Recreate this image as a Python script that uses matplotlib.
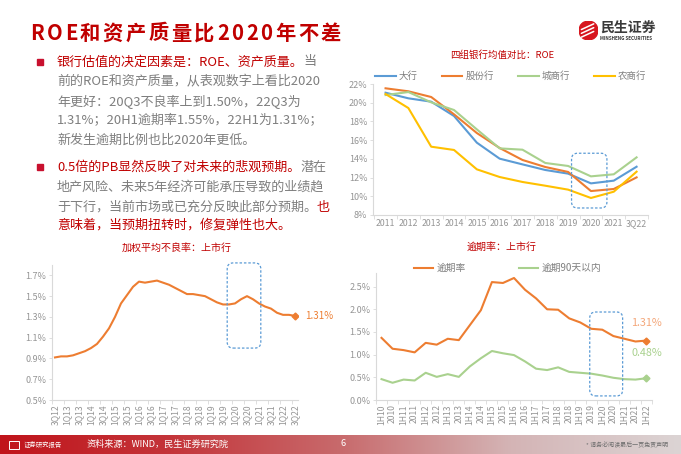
import matplotlib
matplotlib.use('Agg')
import matplotlib.pyplot as plt
import numpy as np
from matplotlib.patches import FancyBboxPatch, Rectangle, Circle
from matplotlib.colors import LinearSegmentedColormap

plt.rcParams['font.family'] = ['Noto Sans CJK SC', 'DejaVu Sans']

#Data - ROE by bank group
roe_years = ['2011', '2012', '2013', '2014', '2015', '2016', '2017', '2018', '2019', '2020', '2021', '3Q22']
roe_big = [21.07, 20.47, 20.11, 18.58, 15.73, 14.02, 13.41, 12.81, 12.42, 11.38, 11.67, 13.16]
roe_joint = [21.54, 21.22, 20.61, 18.76, 16.76, 15.16, 13.88, 13.13, 12.60, 10.56, 10.78, 12.02]
roe_city = [20.82, 21.14, 20.04, 19.22, 17.15, 15.12, 14.98, 13.56, 13.24, 12.13, 12.35, 14.16]
roe_rural = [20.93, 19.43, 15.30, 14.95, 12.88, 12.06, 11.53, 11.13, 10.71, 9.82, 10.49, 12.63]

#Data - weighted NPL ratio, listed banks
npl_quarters = ['3Q12', '4Q12', '1Q13', '2Q13', '3Q13', '4Q13', '1Q14', '2Q14', '3Q14', '4Q14',
                '1Q15', '2Q15', '3Q15', '4Q15', '1Q16', '2Q16', '3Q16', '4Q16', '1Q17', '2Q17',
                '3Q17', '4Q17', '1Q18', '2Q18', '3Q18', '4Q18', '1Q19', '2Q19', '3Q19', '4Q19',
                '1Q20', '2Q20', '3Q20', '4Q20', '1Q21', '2Q21', '3Q21', '4Q21', '1Q22', '2Q22', '3Q22']
npl_rate = [0.91, 0.92, 0.92, 0.93, 0.95, 0.97, 1.00, 1.04, 1.11, 1.19,
            1.30, 1.43, 1.51, 1.59, 1.64, 1.63, 1.64, 1.65, 1.63, 1.61,
            1.58, 1.55, 1.52, 1.52, 1.51, 1.50, 1.47, 1.44, 1.42, 1.42,
            1.43, 1.47, 1.50, 1.47, 1.43, 1.40, 1.38, 1.34, 1.32, 1.32, 1.31]

#Data - overdue ratio, listed banks
od_periods = ['1H10', '2010', '1H11', '2011', '1H12', '2012', '1H13', '2013', '1H14', '2014',
              '1H15', '2015', '1H16', '2016', '1H17', '2017', '1H18', '2018', '1H19', '2019',
              '1H20', '2020', '1H21', '2021', '1H22']
od_rate = [1.37, 1.13, 1.10, 1.05, 1.26, 1.22, 1.35, 1.32, 1.65, 1.98,
           2.60, 2.58, 2.69, 2.43, 2.24, 2.00, 1.99, 1.80, 1.71, 1.57,
           1.55, 1.41, 1.35, 1.29, 1.31]
od_90 = [0.46, 0.38, 0.45, 0.43, 0.60, 0.51, 0.57, 0.51, 0.74, 0.92,
         1.08, 1.03, 0.99, 0.85, 0.69, 0.66, 0.72, 0.62, 0.60, 0.58,
         0.54, 0.49, 0.46, 0.45, 0.48]

W, H = 681, 454
RED = '#C00000'
GRAY = '#7F7F7F'
TICK = '#959595'
SPINE = '#D9D9D9'
BLUE = '#5B9BD5'
ORANGE = '#ED7D31'
GREEN = '#A9D18E'
YELLOW = '#FFC000'

fig = plt.figure(figsize=(W / 100, H / 100), dpi=100)
renderer = fig.canvas.get_renderer()


def fx(x):
    return x / W


def fy(y):
    return 1 - y / H


def seg_line(x, y, parts, size, weight='normal', gap=0.0):
    #draw text pieces one after another on one line
    cx = x
    for txt, col in parts:
        t = fig.text(fx(cx), fy(y), txt, fontsize=size, color=col, va='center', ha='left',
                     fontweight=weight)
        cx += t.get_window_extent(renderer=renderer).width + gap


def style_axes(ax):
    for s in ['top', 'right']:
        ax.spines[s].set_visible(False)
    for s in ['left', 'bottom']:
        ax.spines[s].set_color(SPINE)
        ax.spines[s].set_linewidth(0.8)
    ax.tick_params(axis='y', colors=TICK, labelsize=6.5, length=2, width=0.6, color=SPINE, pad=2)
    ax.tick_params(axis='x', which='major', colors=TICK, length=0, pad=3)
    ax.tick_params(axis='x', which='minor', length=3, width=0.6, color=SPINE)
    ax.set_facecolor('none')


def dashed_box(ax, x0, x1, y0, y1, r_px=6):
    xr = ax.get_xlim()
    yr = ax.get_ylim()
    bb = ax.get_window_extent(renderer=renderer)
    xpx = bb.width / (xr[1] - xr[0])
    ypx = bb.height / (yr[1] - yr[0])
    box = FancyBboxPatch((x0, y0), x1 - x0, y1 - y0,
                         boxstyle='round,pad=0,rounding_size=%f' % (r_px / xpx),
                         mutation_aspect=xpx / ypx, fill=False, edgecolor=BLUE,
                         linestyle=(0, (2, 1.5)), linewidth=0.9, clip_on=False, zorder=5)
    ax.add_patch(box)


#Title
title_parts = [(c, RED) for c in 'ROE和资产质量比2020年不差']
seg_line(30, 33, title_parts, 14.6, weight='bold', gap=2.6)

#Logo
lax = fig.add_axes([fx(579), fy(40), 19 / W, 19 / H])
lax.set_xlim(-1, 1)
lax.set_ylim(-1, 1)
lax.set_aspect('equal')
lax.axis('off')
lax.add_patch(Circle((0, 0), 1, color='#D7161E'))
for dy in [-0.35, 0.05, 0.45]:
    lax.plot([-0.75, 0.55], [dy - 0.35, dy + 0.25], color='white', lw=1.1, solid_capstyle='round')
fig.text(fx(600), fy(28), '民生证券', fontsize=10, fontweight='bold', color='#3A3A3A', va='center', ha='left')
fig.text(fx(600), fy(39), 'MINSHENG SECURITIES', fontsize=3.3, fontweight='bold', color='#3A3A3A',
         va='center', ha='left')

#Left text block
fs = 9.4
fig.patches.append(Rectangle((fx(37), fy(65)), 5.5 / W, 5.5 / H, transform=fig.transFigure, color='#C8102E'))
fig.patches.append(Rectangle((fx(37), fy(170)), 5.5 / W, 5.5 / H, transform=fig.transFigure, color='#C8102E'))
seg_line(57, 62, [('银行估值的决定因素是：ROE、资产质量。', RED), ('当', GRAY)], fs)
seg_line(57, 82, [('前的ROE和资产质量，从表观数字上看比2020', GRAY)], fs)
seg_line(57, 102, [('年更好：20Q3不良率上到1.50%，22Q3为', GRAY)], fs)
seg_line(57, 121, [('1.31%；20H1逾期率1.55%，22H1为1.31%；', GRAY)], fs)
seg_line(57, 140, [('新发生逾期比例也比2020年更低。', GRAY)], fs)
seg_line(57, 167, [('0.5倍的PB显然反映了对未来的悲观预期。', RED), ('潜在', GRAY)], fs)
seg_line(57, 187, [('地产风险、未来5年经济可能承压导致的业绩趋', GRAY)], fs)
seg_line(57, 207, [('于下行，当前市场或已充分反映此部分预期。', GRAY), ('也', RED)], fs)
seg_line(57, 225, [('意味着，当预期扭转时，修复弹性也大。', RED)], fs)

#ROE chart
ax1 = fig.add_axes([fx(373), fy(215), (648 - 373) / W, (215 - 84) / H])
x1 = np.arange(len(roe_years))
ax1.plot(x1, roe_big, color=BLUE, lw=1.5, label='大行')
ax1.plot(x1, roe_joint, color=ORANGE, lw=1.5, label='股份行')
ax1.plot(x1, roe_city, color=GREEN, lw=1.5, label='城商行')
ax1.plot(x1, roe_rural, color=YELLOW, lw=1.5, label='农商行')
ax1.set_xlim(-0.55, len(roe_years) - 0.5)
ax1.set_ylim(8, 22)
ax1.set_yticks(np.arange(8, 23, 2))
ax1.set_yticklabels(['%d%%' % v for v in np.arange(8, 23, 2)])
ax1.set_xticks(x1)
ax1.set_xticklabels(roe_years)
ax1.set_xticks(np.arange(-0.5, len(roe_years), 1), minor=True)
style_axes(ax1)
ax1.tick_params(axis='x', labelsize=6.3)
ax1.legend(ncol=4, loc='center left', bbox_to_anchor=(fx(375), fy(76)), bbox_transform=fig.transFigure,
           frameon=False, fontsize=6.8, handlelength=2.2, handletextpad=0.35, columnspacing=2.5,
           borderpad=0, borderaxespad=0, labelcolor=GRAY)
dashed_box(ax1, 8.15, 9.7, 8.75, 14.6)
fig.text(fx(502), fy(55), '四组银行均值对比：ROE', fontsize=6.8, color=RED, ha='center', va='center')

#NPL chart
ax2 = fig.add_axes([fx(52), fy(400), (298 - 52) / W, (400 - 265) / H])
x2 = np.arange(len(npl_quarters))
ax2.plot(x2, npl_rate, color=ORANGE, lw=1.5)
ax2.plot(x2[-1], npl_rate[-1], marker='D', ms=3.5, color=ORANGE)
ax2.set_xlim(-0.5, len(npl_quarters) - 0.5)
ax2.set_ylim(0.5, 1.8)
ax2.set_yticks(np.arange(0.5, 1.71, 0.2))
ax2.set_yticklabels(['%.1f%%' % v for v in np.arange(0.5, 1.71, 0.2)])
ax2.set_xticks(x2[::2])
ax2.set_xticklabels(npl_quarters[::2], rotation=90)
ax2.set_xticks(np.arange(-0.5, len(npl_quarters), 2), minor=True)
style_axes(ax2)
ax2.tick_params(axis='x', labelsize=6.2)
ax2.annotate('%.2f%%' % npl_rate[-1], (x2[-1], npl_rate[-1]), xytext=(7, 0), textcoords='offset points',
             color=ORANGE, fontsize=7, va='center', ha='left', annotation_clip=False)
dashed_box(ax2, 28.7, 34.3, 1.0, 1.82)
fig.text(fx(177), fy(248), '加权平均不良率：上市行', fontsize=7.2, color=RED, ha='center', va='center')

#Overdue chart
ax3 = fig.add_axes([fx(376), fy(400), (652 - 376) / W, (400 - 273) / H])
x3 = np.arange(len(od_periods))
ax3.plot(x3, od_rate, color=ORANGE, lw=1.5, label='逾期率')
ax3.plot(x3, od_90, color=GREEN, lw=1.5, label='逾期90天以内')
ax3.plot(x3[-1], od_rate[-1], marker='D', ms=3.5, color=ORANGE)
ax3.plot(x3[-1], od_90[-1], marker='D', ms=3.5, color=GREEN)
ax3.set_xlim(-0.5, len(od_periods) - 0.5)
ax3.set_ylim(0, 2.8)
ax3.set_yticks(np.arange(0, 2.51, 0.5))
ax3.set_yticklabels(['%.1f%%' % v for v in np.arange(0, 2.51, 0.5)])
ax3.set_xticks(x3)
ax3.set_xticklabels(od_periods, rotation=90)
ax3.set_xticks(np.arange(-0.5, len(od_periods), 1), minor=True)
style_axes(ax3)
ax3.tick_params(axis='x', labelsize=6.2)
ax3.legend(ncol=2, loc='center left', bbox_to_anchor=(fx(414), fy(268)), bbox_transform=fig.transFigure,
           frameon=False, fontsize=7, handlelength=2.0, handletextpad=0.35, columnspacing=5.4,
           borderpad=0, borderaxespad=0, labelcolor=GRAY)
ax3.annotate('%.2f%%' % od_rate[-1], (x3[-1], od_rate[-1]), xytext=(0, 13), textcoords='offset points',
             color='#F4A77A', fontsize=7.8, va='center', ha='center', annotation_clip=False)
ax3.annotate('%.2f%%' % od_90[-1], (x3[-1], od_90[-1]), xytext=(0, 18), textcoords='offset points',
             color=GREEN, fontsize=7.8, va='center', ha='center', annotation_clip=False)
dashed_box(ax3, 18.86, 21.84, 0.09, 1.94)
fig.text(fx(502), fy(247), '逾期率：上市行', fontsize=7.2, color=RED, ha='center', va='center')

#Footer band
fax = fig.add_axes([0, 0, 1, 19 / H])
cmap = LinearSegmentedColormap.from_list('band', ['#C0141B', '#C4353A', '#C86A6C', '#D4B4B5', '#DCD4D4'])
fax.imshow(np.linspace(0, 1, 256).reshape(1, -1), aspect='auto', cmap=cmap, extent=(0, 1, 0, 1))
fax.axis('off')
fig.patches.append(Rectangle((fx(9), fy(449)), 10 / W, 8 / H, transform=fig.transFigure,
                             fill=False, edgecolor='white', lw=0.7))
fig.text(fx(24), fy(445), '证券研究报告', fontsize=4.6, color='white', va='center', ha='left')
fig.text(fx(87), fy(444), '资料来源：WIND，民生证券研究院', fontsize=6.6, color='white', va='center', ha='left')
fig.text(fx(343), fy(444), '6', fontsize=6.6, color='white', va='center', ha='center')
fig.text(fx(668), fy(445), '* 请务必阅读最后一页免责声明', fontsize=4.3, color='#6E6E6E', va='center', ha='right')

plt.savefig('out.png', dpi=100)
